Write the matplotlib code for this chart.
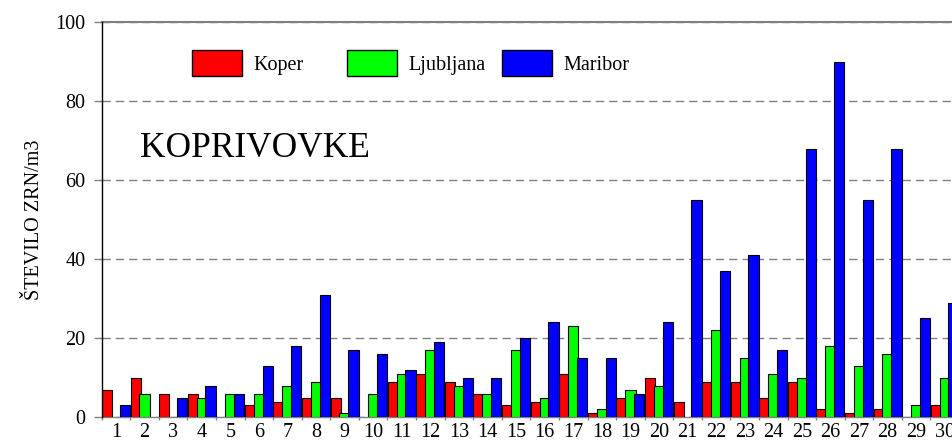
import matplotlib
matplotlib.use("Agg")
import matplotlib.pyplot as plt
from matplotlib.patches import Patch
from matplotlib.legend import Legend
import numpy as np

plt.rcParams["font.family"] = ["Liberation Serif", "DejaVu Serif"]

days = list(range(1, 31))
koper = [7, 10, 6, 6, 0, 3, 4, 5, 5, 0, 9, 11, 9, 6, 3, 4, 11, 1, 5, 10,
         4, 9, 9, 5, 9, 2, 1, 2, 0, 3]
ljubljana = [0, 6, 0, 5, 6, 6, 8, 9, 1, 6, 11, 17, 8, 6, 17, 5, 23, 2, 7, 8,
             0, 22, 15, 11, 10, 18, 13, 16, 3, 10]
maribor = [3, 0, 5, 8, 6, 13, 18, 31, 17, 16, 12, 19, 10, 10, 20, 24, 15, 15, 6, 24,
           55, 37, 41, 17, 68, 90, 55, 68, 25, 29]
series_names = ["Koper", "Ljubljana", "Maribor"]
series_colors = ["#ff0000", "#00ff00", "#0000ff"]
y_ticks = [0, 20, 40, 60, 80, 100]

fig = plt.figure(figsize=(9.52, 4.41), dpi=100)
# axes runs a little past the right edge of the picture, like the original crop
ax = fig.add_axes([0.1068, 0.0537, 0.9006, 0.8964])

x = np.array(days)
width = 0.36
offsets = [-0.31, 0.0, 0.31]
for vals, off, col in zip([koper, ljubljana, maribor], offsets, series_colors):
    bars = ax.bar(x + off, vals, width=width, color=col, edgecolor="black",
                  linewidth=0.8, zorder=3)
    # excel leaves empty days blank
    for patch, v in zip(bars, vals):
        if v == 0:
            patch.set_visible(False)

ax.set_xlim(0.5, 30.5)
ax.set_ylim(0, 100)
ax.set_yticks(y_ticks)
ax.set_xticks(days)
ax.set_xticks(np.arange(0.5, 31, 1), minor=True)

ax.tick_params(axis="y", length=5.8, width=1, color="#808080", pad=6,
               labelsize=14.5)
ax.tick_params(axis="x", which="major", length=0, pad=4, labelsize=14.5)
ax.tick_params(axis="x", which="minor", length=2.5, width=1, color="#808080")

ax.grid(True, axis="y", color="#808080", linewidth=1, linestyle=(0, (6, 3.6)),
        zorder=1)

ax.spines["left"].set_color("black")
ax.spines["left"].set_linewidth(1.0)
ax.spines["left"].set_zorder(4)
ax.spines["bottom"].set_color("#808080")
ax.spines["bottom"].set_linewidth(1.0)
ax.spines["top"].set_color("#808080")
ax.spines["top"].set_linewidth(1.5)
ax.spines["right"].set_visible(False)

ax.set_ylabel("ŠTEVILO ZRN/m3", fontsize=14.5)
ax.yaxis.set_label_coords(-0.067, 0.5)

ax.text(0.0447, 0.6585, "KOPRIVOVKE", transform=ax.transAxes, fontsize=25.5,
        va="baseline", ha="left")

# one legend per entry so the columns sit at equal steps like excel
legend_x = [0.105, 0.2858, 0.4665]
for lx, name, col in zip(legend_x, series_names, series_colors):
    handle = Patch(facecolor=col, edgecolor="black", linewidth=1)
    leg = Legend(ax, [handle], [name], loc="center left",
                 bbox_to_anchor=(lx, 0.8955), frameon=False,
                 fontsize=14.5, handlelength=2.49, handleheight=1.6,
                 handletextpad=0.56, borderpad=0, borderaxespad=0)
    ax.add_artist(leg)

fig.savefig("out.png", dpi=100)
